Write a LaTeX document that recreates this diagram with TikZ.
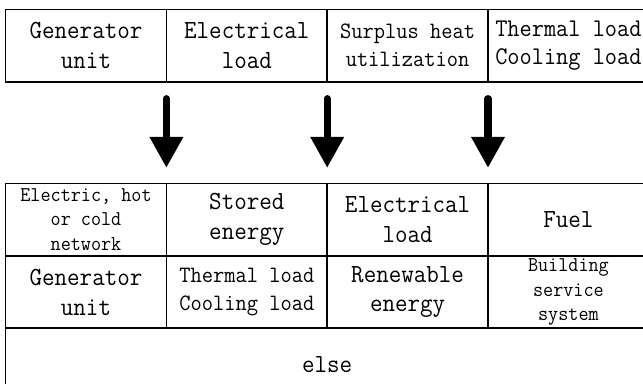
\documentclass[tikz,border=0pt]{standalone}
\usepackage{fontspec}
\newfontfamily\cellfont[FakeStretch=0.93]{Latin Modern Mono}
\usetikzlibrary{positioning,arrows.meta}

\begin{document}
\begin{tikzpicture}[
    every node/.style={font=\cellfont\fontsize{18.6pt}{21.3pt}\selectfont},
    cell/.style={draw, line width=1.2pt, outer sep=0pt, inner sep=0pt,
        minimum width=4.02cm, minimum height=1.81cm, align=center},
    widetext/.style={font=\cellfont\fontsize{18.1pt}{20.4pt}\selectfont},
    mediumtext/.style={font=\cellfont\fontsize{16.7pt}{19.9pt}\selectfont},
    smalltext/.style={font=\cellfont\fontsize{15pt}{17.4pt}\selectfont},
    bigarrow/.style={line width=5pt, line cap=round,
        shorten <=0.42cm, shorten >=0.39cm,
        -{Triangle[length=7.75mm 0 0, width=8mm 0 0]}}
]
    \useasboundingbox (0,0) rectangle (16.075,9.575);

    % Rangée du haut.
    \node[cell, anchor=north west] (gen) at (0.14,9.34) {Generator\\unit};
    \node[cell, right=0pt of gen] (elec) {Electrical\\load};
    \node[cell, mediumtext, right=0pt of elec] (surplus) {Surplus heat\\utilization};
    \node[cell, widetext, right=0pt of surplus] (therm) {Thermal load\\Cooling load};

    % Tableau du bas.
    \node[cell, smalltext, anchor=north west] (grid) at (0.14,4.99) {Electric, hot\\or cold\\network};
    \node[cell, right=0pt of grid] (stored) {Stored\\energy};
    \node[cell, right=0pt of stored] (elecb) {Electrical\\load};
    \node[cell, right=0pt of elecb] (fuel) {Fuel};
    \node[cell, below=0pt of grid] (genb) {Generator\\unit};
    \node[cell, mediumtext, right=0pt of genb] (thermb) {Thermal load\\Cooling load};
    \node[cell, right=0pt of thermb] (renew) {Renewable\\energy};
    \node[cell, smalltext, right=0pt of renew] (build) {Building\\service\\system};
    \node[cell, anchor=north west, minimum width=16.08cm] (other) at (genb.south west) {else};

    % Flèches entre les deux tableaux.
    \foreach \from/\to in {gen/stored, elec/elecb, surplus/fuel}
        \draw[bigarrow] (\from.south east) -- (\to.north west);
\end{tikzpicture}
\end{document}
